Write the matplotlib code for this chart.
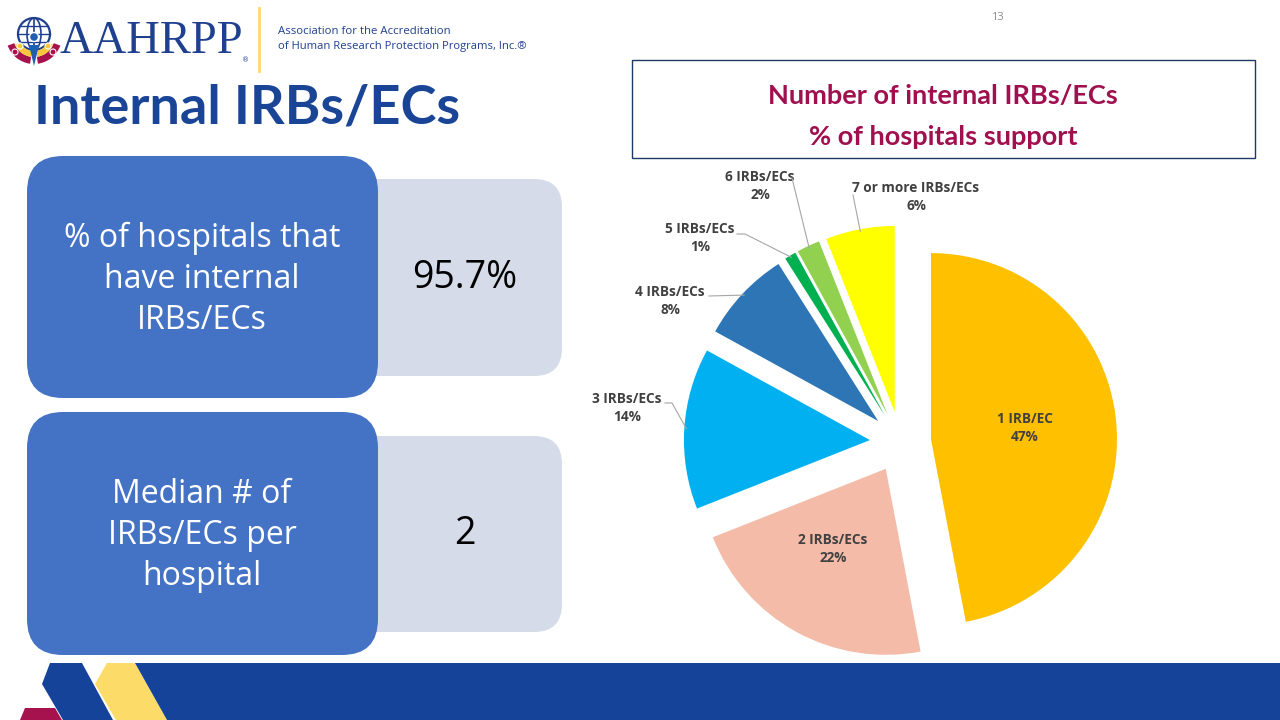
import matplotlib
matplotlib.use("Agg")
import matplotlib.pyplot as plt
from matplotlib.patches import FancyBboxPatch, Rectangle, Polygon, Circle, Ellipse, Wedge
import numpy as np

# ---------------- data ----------------
categories = ["1 IRB/EC", "2 IRBs/ECs", "3 IRBs/ECs", "4 IRBs/ECs",
              "5 IRBs/ECs", "6 IRBs/ECs", "7 or more IRBs/ECs"]
shares = [47, 22, 14, 8, 1, 2, 6]
slice_colors = ["#FFC000", "#F4BCA8", "#00B0F0", "#2E75B6",
                "#00B050", "#92D050", "#FFFF00"]

chart_title = ["Number of internal IRBs/ECs", "% of hospitals support"]
stat_labels = ["% of hospitals that\nhave internal\nIRBs/ECs",
               "Median # of\nIRBs/ECs per\nhospital"]
stat_values = ["95.7%", "2"]
page_title = "Internal IRBs/ECs"

# ---------------- layout (pixel coords, y down) ----------------
W, H = 1280, 720
def Y(y):
    return H - y

fig = plt.figure(figsize=(12.8, 7.2), dpi=100)
ax = fig.add_axes([0, 0, 1, 1])

BLUE_DARK = "#15439A"
BOX_BLUE = "#4472C4"
BOX_LIGHT = "#D6DBEA"
MAROON = "#A0104F"
YELLOW = "#FDDB68"

# ---- pie ----
pie_center = (900.5, Y(442))
pie_radius = 186
explode_px = 30.6
wedges, _ = ax.pie(shares, colors=slice_colors, startangle=90, counterclock=False,
                   explode=[explode_px] * len(shares), radius=pie_radius,
                   center=pie_center, wedgeprops=dict(linewidth=0))

lab_font = dict(family=["Open Sans", "DejaVu Sans"], fontweight="bold",
                fontsize=9.8, color="#404040", ha="center", va="center",
                linespacing=1.45)

inside_pos = {0: (1025, 428), 1: (833, 549)}
for i, (x, y) in inside_pos.items():
    ax.text(x, Y(y), f"{categories[i]}\n{shares[i]}%", **lab_font)

outside = {
    2: dict(text=(627, 408), start=[(665, 403), (672, 403)]),
    3: dict(text=(670, 301), start=[(709, 296)]),
    4: dict(text=(700, 238), start=[(737, 234), (745, 234)]),
    5: dict(text=(760, 186), start=[(792, 178)]),
    6: dict(text=(916, 197), start=[(853, 195)]),
}
cum = np.cumsum([0] + shares)
for i, spec in outside.items():
    x, y = spec["text"]
    ax.text(x, Y(y), f"{categories[i]}\n{shares[i]}%", **lab_font)
    mid = np.deg2rad(90 - 360 * (cum[i] + cum[i + 1]) / 2 / 100)
    rr = pie_radius + explode_px - 2
    ex = pie_center[0] + rr * np.cos(mid)
    ey = pie_center[1] + rr * np.sin(mid)
    xs = [p[0] for p in spec["start"]] + [ex]
    ys = [Y(p[1]) for p in spec["start"]] + [ey]
    ax.plot(xs, ys, color="#A6A6A6", lw=0.8, zorder=3)

# chart title box
ax.add_patch(Rectangle((632, Y(158)), 1255 - 632, 158 - 60, fill=False,
                       edgecolor="#1F3864", lw=1.0))
ax.text(943, Y(96), chart_title[0], family=["Lato", "DejaVu Sans"], fontweight="bold",
        fontsize=19.5, color=MAROON, ha="center", va="center")
ax.text(943, Y(137), chart_title[1], family=["Lato", "DejaVu Sans"], fontweight="bold",
        fontsize=19.5, color=MAROON, ha="center", va="center")

# ---- stat boxes ----
box_tops = [156, 412]
box_heights = [242, 243]
light_tops = [179, 436]
light_heights = [197, 196]
for k in range(2):
    ax.add_patch(FancyBboxPatch((340, Y(light_tops[k] + light_heights[k])), 562 - 340,
                                light_heights[k],
                                boxstyle="round,pad=0,rounding_size=28",
                                facecolor=BOX_LIGHT, edgecolor="none", zorder=2))
    ax.add_patch(FancyBboxPatch((27, Y(box_tops[k] + box_heights[k])), 378 - 27,
                                box_heights[k],
                                boxstyle="round,pad=0,rounding_size=36",
                                facecolor=BOX_BLUE, edgecolor="none", zorder=3))
    cy = box_tops[k] + box_heights[k] / 2 + 2
    ax.text(202, Y(cy), stat_labels[k], family=["Open Sans", "DejaVu Sans"],
            fontsize=23, color="white", ha="center", va="center",
            linespacing=1.32, zorder=4)
    ax.text(465, Y(light_tops[k] + light_heights[k] / 2), stat_values[k],
            family=["Open Sans", "DejaVu Sans"], fontsize=27, color="black",
            ha="center", va="center", zorder=4)

# ---- page title ----
ax.text(34, Y(108), page_title, family=["Lato", "DejaVu Sans"], fontweight="bold",
        fontsize=39, color="#1A4496", ha="left", va="center")

# page number
ax.text(997, Y(18), "13", family=["Open Sans", "DejaVu Sans"], fontsize=8,
        color="#8C8C8C", ha="center", va="center")

# ---- logo ----
gc = (34, Y(34))
ax.add_patch(Circle(gc, 16, fill=False, edgecolor="#1F3F8F", lw=1.6))
ax.add_patch(Ellipse(gc, 14, 32, fill=False, edgecolor="#1F3F8F", lw=1.2))
ax.plot([34, 34], [gc[1] - 16, gc[1] + 16], color="#1F3F8F", lw=1.2)
for dy in (-8, 0, 8):
    half = np.sqrt(16 ** 2 - dy ** 2)
    ax.plot([34 - half, 34 + half], [gc[1] + dy, gc[1] + dy], color="#1F3F8F", lw=1.0)
pc = (34, Y(36))
ax.add_patch(Wedge(pc, 28, 200, 262, width=7, facecolor="#A5124E", edgecolor="none", zorder=4))
ax.add_patch(Wedge(pc, 28, 278, 340, width=7, facecolor="#A5124E", edgecolor="none", zorder=4))
ax.add_patch(Wedge(pc, 21, 205, 262, width=6, facecolor="#F9C73A", edgecolor="none", zorder=4))
ax.add_patch(Wedge(pc, 21, 278, 335, width=6, facecolor="#F9C73A", edgecolor="none", zorder=4))
ax.add_patch(Polygon([(29, Y(45)), (39, Y(45)), (34, Y(66))], closed=True,
                     facecolor="#1F5FB0", edgecolor="none", zorder=5))
ax.add_patch(Circle((34, Y(37)), 4.5, facecolor="#1F5FB0", edgecolor="white", lw=1, zorder=5))
for hx, hc in [(20, "#F9C73A"), (48, "#F9C73A"), (15, "#A5124E"), (53, "#A5124E")]:
    ax.add_patch(Circle((hx, Y(46 if hc == "#F9C73A" else 52)), 3,
                        facecolor=hc, edgecolor="white", lw=0.8, zorder=5))
ax.text(60, Y(42), "AAHRPP", family=["Liberation Serif", "DejaVu Serif"], fontsize=33.5,
        color="#1F3F8F", ha="left", va="center")
ax.text(246, Y(60), "®", family=["DejaVu Sans"], fontsize=5, color="#1F3F8F",
        ha="center", va="center")
ax.plot([259, 259], [Y(8), Y(71)], color=YELLOW, lw=2)
ax.text(278, Y(32), "Association for the Accreditation", family=["Open Sans", "DejaVu Sans"],
        fontsize=8.2, color="#1F3F8F", ha="left", va="center")
ax.text(278, Y(46), "of Human Research Protection Programs, Inc.®",
        family=["Open Sans", "DejaVu Sans"], fontsize=8.1, color="#1F3F8F",
        ha="left", va="center")

# ---- bottom decoration ----
ax.add_patch(Polygon([(20, Y(720)), (25, Y(708)), (55, Y(708)), (62, Y(720))],
                     closed=True, facecolor="#A5124E", edgecolor="none", zorder=2))
ax.add_patch(Polygon([(50, Y(663)), (82, Y(663)), (113, Y(720)), (63, Y(720)), (42, Y(684))],
                     closed=True, facecolor=BLUE_DARK, edgecolor="none", zorder=3))
ax.add_patch(Polygon([(107, Y(663)), (135, Y(663)), (167, Y(720)), (116, Y(720)), (95, Y(684))],
                     closed=True, facecolor=YELLOW, edgecolor="none", zorder=3))
ax.add_patch(Polygon([(135, Y(663)), (1280, Y(663)), (1280, Y(720)), (167, Y(720))],
                     closed=True, facecolor=BLUE_DARK, edgecolor="none", zorder=3))

ax.set_xlim(0, W)
ax.set_ylim(0, H)
ax.set_aspect("auto")
ax.axis("off")

fig.savefig("out.png", dpi=100)
